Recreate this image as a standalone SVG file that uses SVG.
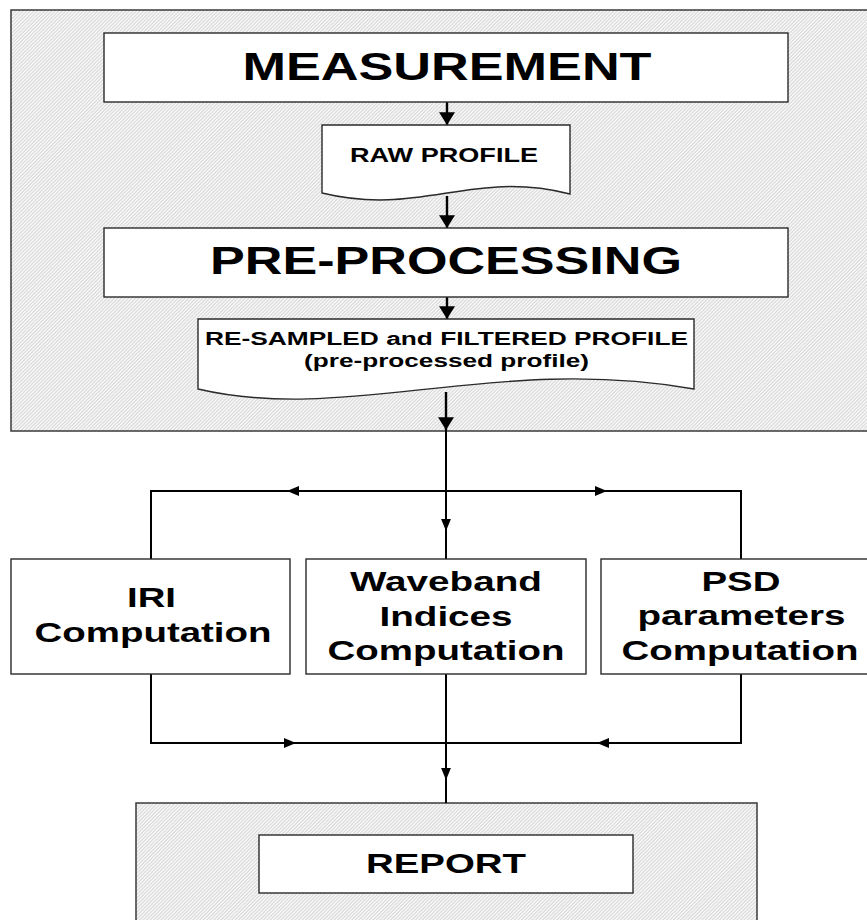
<svg xmlns="http://www.w3.org/2000/svg" width="867" height="920" viewBox="0 0 867 920">
  <defs>
    <!-- light grey background with fine white diagonal hatching -->
    <pattern id="hatch" width="2.5" height="2.5" patternUnits="userSpaceOnUse" patternTransform="rotate(45)">
      <rect width="2.5" height="2.5" fill="#dcdcdc"/>
      <rect width="1" height="2.5" fill="#ffffff"/>
    </pattern>
    <marker id="arrowBig" markerUnits="userSpaceOnUse" markerWidth="16" markerHeight="16" viewBox="0 0 12 15" refX="12" refY="7.5" orient="auto">
      <path d="M0,0 L12,7.5 L0,15 Z" fill="#000"/>
    </marker>
    <marker id="arrowSmall" markerUnits="userSpaceOnUse" markerWidth="12" markerHeight="12" viewBox="0 0 11 9" refX="11" refY="4.5" orient="auto">
      <path d="M0,0 L11,4.5 L0,9 Z" fill="#000"/>
    </marker>
  </defs>
  <style>
    .container { fill: url(#hatch); stroke: #3a3a3a; stroke-width: 1.5; }
    .box { fill: #ffffff; stroke: #2a2a2a; stroke-width: 1.4; }
    .lbl { font-family: "Liberation Sans", Arial, sans-serif; font-weight: bold; fill: #000; text-anchor: middle; }
    .big { font-size: 39px; }
    .mid { font-size: 28px; }
    .small { font-size: 19.5px; }
    .tiny { font-size: 18px; }
    .wire { fill: none; stroke: #000; stroke-width: 2; }
    .wireTop { fill: none; stroke: #000; stroke-width: 2.4; }
  </style>

  <rect width="867" height="920" fill="#ffffff"/>

  <!-- upper processing stage -->
  <g id="stage-acquisition">
    <rect class="container" x="11" y="10" width="880" height="421"/>
  </g>

  <!-- output stage -->
  <g id="stage-output">
    <rect class="container" x="136" y="803" width="621" height="130"/>
  </g>

  <g id="connectors">
    <path class="wireTop" d="M447,102 V125" marker-end="url(#arrowBig)"/>
    <path class="wireTop" d="M447,196 V228" marker-end="url(#arrowBig)"/>
    <path class="wireTop" d="M447,297 V319" marker-end="url(#arrowBig)"/>
    <path class="wireTop" d="M446,392 V430" marker-end="url(#arrowBig)"/>
    <!-- distribution to the three computations -->
    <path class="wire" d="M446,430 V531" marker-end="url(#arrowSmall)"/>
    <path class="wire" d="M446,530 V559"/>
    <path class="wire" d="M446,491 H287" marker-end="url(#arrowSmall)"/>
    <path class="wire" d="M288,491 H151 V559"/>
    <path class="wire" d="M446,491 H607" marker-end="url(#arrowSmall)"/>
    <path class="wire" d="M606,491 H741 V559"/>
    <!-- collection into the report -->
    <path class="wire" d="M151,674 V743 H296" marker-end="url(#arrowSmall)"/>
    <path class="wire" d="M295,743 H446"/>
    <path class="wire" d="M741,674 V743 H597" marker-end="url(#arrowSmall)"/>
    <path class="wire" d="M598,743 H446"/>
    <path class="wire" d="M446,674 V780" marker-end="url(#arrowSmall)"/>
    <path class="wire" d="M446,779 V803"/>
  </g>

  <g id="measurement">
    <rect class="box" x="104" y="33" width="684" height="69"/>
    <text class="lbl big" x="447" y="80" textLength="409" lengthAdjust="spacingAndGlyphs">MEASUREMENT</text>
  </g>

  <g id="raw-profile">
    <path class="box" d="M322,125 H570 V194 C471,169 421,217 322,193 Z"/>
    <text class="lbl small" x="444" y="162" textLength="188" lengthAdjust="spacingAndGlyphs">RAW PROFILE</text>
  </g>

  <g id="pre-processing">
    <rect class="box" x="104" y="228" width="684" height="69"/>
    <text class="lbl big" x="446" y="274" font-size="38" textLength="472" lengthAdjust="spacingAndGlyphs">PRE-PROCESSING</text>
  </g>

  <g id="filtered-profile">
    <path class="box" d="M198,319 H694 V389 C496,354 347,424 198,389 Z"/>
    <text class="lbl tiny" x="446.5" y="344.5" textLength="483" lengthAdjust="spacingAndGlyphs">RE-SAMPLED and FILTERED PROFILE</text>
    <text class="lbl tiny" x="446.5" y="367" textLength="285" lengthAdjust="spacingAndGlyphs">(pre-processed profile)</text>
  </g>

  <g id="iri">
    <rect class="box" x="11" y="559" width="279" height="115"/>
    <text class="lbl mid" x="151.5" y="607" textLength="49" lengthAdjust="spacingAndGlyphs">IRI</text>
    <text class="lbl mid" x="153" y="642" textLength="237" lengthAdjust="spacingAndGlyphs">Computation</text>
  </g>

  <g id="waveband">
    <rect class="box" x="306" y="559" width="280" height="115"/>
    <text class="lbl mid" x="446" y="591" textLength="192" lengthAdjust="spacingAndGlyphs">Waveband</text>
    <text class="lbl mid" x="446" y="626" textLength="133" lengthAdjust="spacingAndGlyphs">Indices</text>
    <text class="lbl mid" x="446" y="660" textLength="237" lengthAdjust="spacingAndGlyphs">Computation</text>
  </g>

  <g id="psd">
    <rect class="box" x="601" y="559" width="280" height="115"/>
    <text class="lbl mid" x="741" y="591" textLength="79" lengthAdjust="spacingAndGlyphs">PSD</text>
    <text class="lbl mid" x="741.5" y="625" textLength="208" lengthAdjust="spacingAndGlyphs">parameters</text>
    <text class="lbl mid" x="740" y="660" textLength="237" lengthAdjust="spacingAndGlyphs">Computation</text>
  </g>

  <g id="report">
    <rect class="box" x="259" y="835" width="374" height="58"/>
    <text class="lbl mid" x="446" y="873" textLength="160" lengthAdjust="spacingAndGlyphs">REPORT</text>
  </g>
</svg>
